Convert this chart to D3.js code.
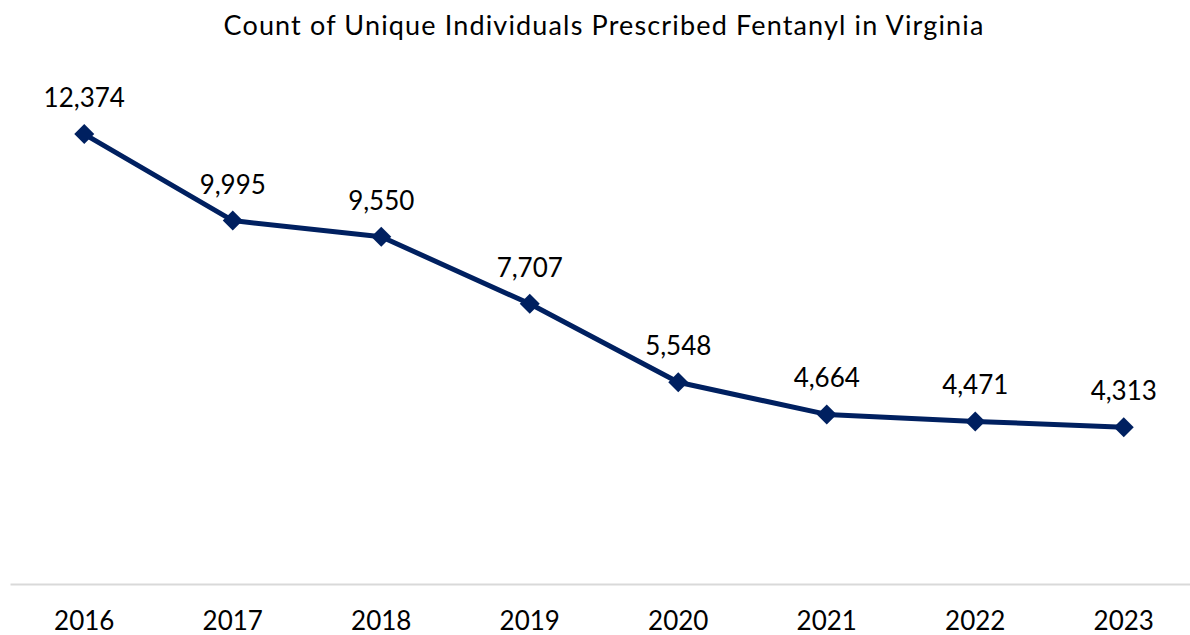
<!DOCTYPE html>
<html><head><meta charset="utf-8">
<script src="https://cdn.jsdelivr.net/npm/d3@7"></script>
<style>
html,body{margin:0;padding:0;background:#fff;}
svg{display:block;font-family:Lato,"Open Sans",sans-serif;}
</style></head>
<body>
<svg id="chart" width="1190" height="635"></svg>
<script>
const years = ["2016","2017","2018","2019","2020","2021","2022","2023"];
const counts = [12374, 9995, 9550, 7707, 5548, 4664, 4471, 4313];
const title = "Count of Unique Individuals Prescribed Fentanyl in Virginia";

const data = years.map((y,i)=>({year:y, value:counts[i]}));
const svg = d3.select("#chart");

const x = d3.scaleBand().domain(years).range([10, 1198]).padding(0);
const y = d3.scaleLinear().domain([0, 14000]).range([584, 75]);

svg.append("text")
  .attr("x", 604).attr("y", 35)
  .attr("text-anchor","middle")
  .attr("font-size", 27)
  .attr("letter-spacing", 1.15)
  .attr("fill","#000")
  .text(title);

const axis = d3.axisBottom(x).tickSize(0).tickPadding(0);
const gAxis = svg.append("g").attr("transform", `translate(0,${y(0)})`).call(axis);
gAxis.select(".domain").attr("stroke","#d9d9d9").attr("stroke-width",2);
gAxis.selectAll(".tick text")
  .attr("font-family","Lato, 'Open Sans', sans-serif")
  .attr("font-size",26)
  .attr("fill","#000")
  .attr("dy", null)
  .attr("y", 46);

const cx = d => x(d.year) + x.bandwidth()/2;

const line = d3.line().x(cx).y(d => y(d.value));
svg.append("path").datum(data)
  .attr("d", line)
  .attr("fill","none")
  .attr("stroke","#002060")
  .attr("stroke-width",5)
  .attr("stroke-linejoin","round");

svg.append("g").selectAll("path").data(data).join("path")
  .attr("d", d3.symbol(d3.symbolSquare, 200)())
  .attr("transform", d => `translate(${cx(d)},${y(d.value)}) rotate(45)`)
  .attr("fill","#002060");

svg.append("g").selectAll("text").data(data).join("text")
  .attr("x", cx)
  .attr("y", d => y(d.value) - 27)
  .attr("text-anchor","middle")
  .attr("font-size",26)
  .attr("fill","#000")
  .text(d => d3.format(",")(d.value));
</script>
</body></html>
